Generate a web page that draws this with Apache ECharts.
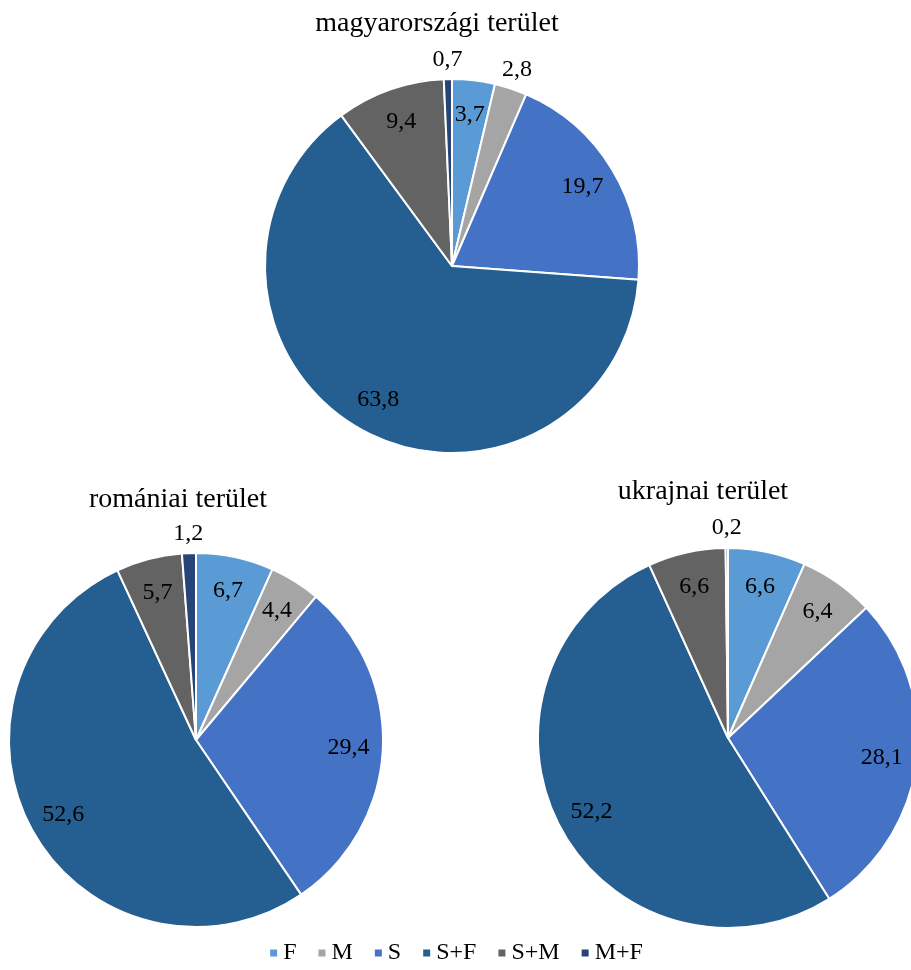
<!DOCTYPE html>
<html><head><meta charset="utf-8">
<script src="https://cdn.jsdelivr.net/npm/echarts@6/dist/echarts.min.js"></script>
<style>html,body{margin:0;padding:0;background:#fff}#c{width:911px;height:970px}</style>
</head><body><div id="c"></div>
<script>
const categories = ['F', 'M', 'S', 'S+F', 'S+M', 'M+F'];
const colors = ['#5B9BD5', '#A5A5A5', '#4472C4', '#255E91', '#636363', '#264478'];
const titles = ['magyarországi terület', 'romániai terület', 'ukrajnai terület'];
const hungary = [3.7, 2.8, 19.7, 63.8, 9.4, 0.7];
const romania = [6.7, 4.4, 29.4, 52.6, 5.7, 1.2];
const ukraine = [6.6, 6.4, 28.1, 52.2, 6.6, 0.2];

const FONT = '"Liberation Serif", "Times New Roman", serif';
const pies = [
  { values: hungary, center: [452, 266], r: 187, title: [432, 5] },
  { values: romania, center: [196, 740], r: 187, title: [173, 481] },
  { values: ukraine, center: [728, 738], r: 190, title: [698, 473] }
];
const fmt = v => v.toFixed(1).replace('.', ',');
const SMALL = 3;

const series = [];
const title = [];
pies.forEach((p, pi) => {
  title.push({
    text: titles[pi], left: p.title[0], top: p.title[1], textAlign: 'center',
    textStyle: { fontFamily: FONT, fontSize: 28, fontWeight: 'normal', color: '#000' }
  });
  series.push({
    type: 'pie', center: p.center, radius: [0, p.r], startAngle: 90, clockwise: true,
    avoidLabelOverlap: false, silent: true,
    data: categories.map((c, i) => ({ name: c, value: p.values[i], itemStyle: { color: colors[i] } })),
    itemStyle: { borderColor: '#fff', borderWidth: 2 },
    label: { show: false }, labelLine: { show: false },
    emphasis: { disabled: true }
  });
  // label layers: transparent rings whose mid-radius positions labels
  [[1.6, v => v >= SMALL], [2.18, v => v < SMALL]].forEach(([k, test]) => {
    series.push({
      type: 'pie', center: p.center, radius: [0, p.r * k], startAngle: 90, clockwise: true,
      avoidLabelOverlap: false, silent: true, z: 5,
      data: categories.map((c, i) => ({
        name: c, value: p.values[i],
        label: { show: test(p.values[i]) }
      })),
      itemStyle: { color: 'rgba(0,0,0,0)', borderWidth: 0 },
      label: {
        position: 'inside', fontFamily: FONT, fontSize: 24, color: '#000',
        formatter: d => fmt(d.value)
      },
      labelLine: { show: false },
      emphasis: { disabled: true }
    });
  });
});

const chart = echarts.init(document.getElementById('c'), null, { renderer: 'canvas' });
chart.setOption({
  animation: false,
  color: colors,
  title: title,
  legend: {
    data: categories, bottom: 0, left: 'center', icon: 'rect',
    itemWidth: 9, itemHeight: 9, itemGap: 20,
    textStyle: { fontFamily: FONT, fontSize: 24, color: '#000' },
    selectedMode: false
  },
  series: series
});
</script></body></html>
